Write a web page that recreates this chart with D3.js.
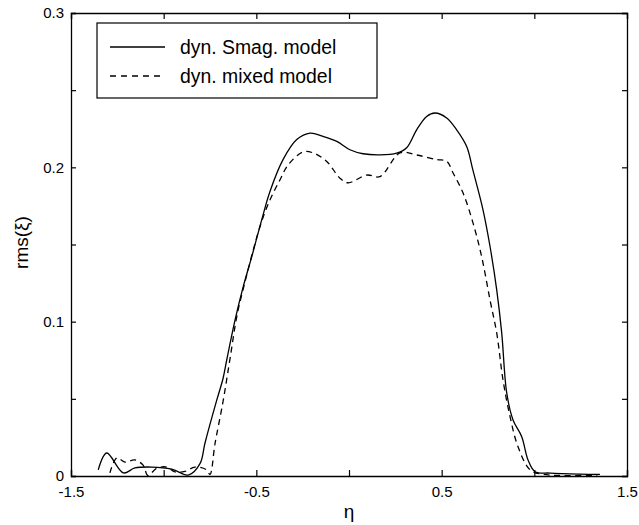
<!DOCTYPE html>
<html>
<head>
<meta charset="utf-8">
<script src="https://d3js.org/d3.v7.min.js"></script>
<style>
  body { margin: 0; background: #fff; }
  svg { display: block; }
  text { font-family: "Liberation Sans", Arial, sans-serif; fill: #000; }
</style>
</head>
<body>
<div id="chart"></div>
<script>
// eta positions and rms values
const smagEta = [-1.353, -1.307, -1.218, -1.155, -1.065, -0.957, -0.867, -0.804, -0.777,
  -0.714, -0.680, -0.660, -0.615, -0.570, -0.525, -0.471, -0.426, -0.356, -0.282, -0.210,
  -0.140, -0.066, 0.005, 0.076, 0.167, 0.257, 0.311, 0.365, 0.419, 0.464, 0.527, 0.581,
  0.635, 0.669, 0.723, 0.761, 0.797, 0.824, 0.851, 0.885, 0.932, 0.966, 1.004, 1.085, 1.246, 1.354];
const smagRms = [0.004, 0.0149, 0.002, 0.0052, 0.0058, 0.0045, 0.0006, 0.008, 0.0214,
  0.049, 0.063, 0.075, 0.101, 0.123, 0.142, 0.166, 0.1845, 0.205, 0.218, 0.2222,
  0.220, 0.2168, 0.2114, 0.2088, 0.2081, 0.2092, 0.2127, 0.2243, 0.233, 0.2352, 0.232, 0.2243,
  0.2135, 0.198, 0.1725, 0.1487, 0.1206, 0.0927, 0.0538, 0.0363, 0.0255, 0.0104, 0.0028, 0.0019, 0.0012, 0.001];

const mixedEta = [-1.290, -1.253, -1.209, -1.155, -1.111, -1.085, -1.038, -0.984, -0.939, -0.885,
  -0.831, -0.768, -0.750, -0.723, -0.680, -0.642, -0.606, -0.572, -0.480, -0.426, -0.372,
  -0.329, -0.248, -0.194, -0.120, -0.049, -0.005, 0.096, 0.167, 0.275, 0.365, 0.473, 0.527,
  0.561, 0.615, 0.669, 0.716, 0.761, 0.797, 0.831, 0.869, 0.912, 0.977, 1.05, 1.34];
const mixedRms = [0.002, 0.0117, 0.009, 0.0104, 0.007, 0.0003, 0.005, 0.0058, 0.0026, 0.003,
  0.0058, 0.004, 0.001, 0.021, 0.048, 0.076, 0.103, 0.1206, 0.1617, 0.179, 0.192,
  0.2015, 0.210, 0.2094, 0.2038, 0.193, 0.19, 0.195, 0.194, 0.2094, 0.208, 0.205, 0.204,
  0.1965, 0.1835, 0.164, 0.142, 0.114, 0.0927, 0.0622, 0.0385, 0.019, 0.004, 0.001, 0.0006];

const seriesNames = ["dyn. Smag. model", "dyn. mixed model"];
const xLabelTicks = [-1.5, -0.5, 0.5, 1.5];
const xAllTicks = [-1.5, -1, -0.5, 0, 0.5, 1, 1.5];
const yLabelTicks = [0, 0.1, 0.2, 0.3];
const yAllTicks = [0, 0.05, 0.1, 0.15, 0.2, 0.25, 0.3];

const width = 639, height = 525;
const margin = {top: 13, right: 12, bottom: 49, left: 71};
const iw = width - margin.left - margin.right;
const ih = height - margin.top - margin.bottom;

const svg = d3.select("#chart").append("svg")
    .attr("width", width)
    .attr("height", height);

svg.append("rect").attr("width", width).attr("height", height).attr("fill", "#fff");

const g = svg.append("g").attr("transform", `translate(${margin.left},${margin.top})`);

const x = d3.scaleLinear().domain([-1.5, 1.5]).range([0, iw]);
const y = d3.scaleLinear().domain([0, 0.3]).range([ih, 0]);

const fmt = d => (xLabelTicks.includes(d) ? String(d) : "");
const fmtY = d => (yLabelTicks.includes(d) ? String(d) : "");

// axes, ticks pointing inward on all four sides
const xBottom = g.append("g").attr("transform", `translate(0,${ih})`)
    .call(d3.axisBottom(x).tickValues(xAllTicks).tickSize(-6).tickPadding(10).tickFormat(fmt));
const xTop = g.append("g")
    .call(d3.axisTop(x).tickValues(xAllTicks).tickSize(-6).tickFormat(""));
const yLeft = g.append("g")
    .call(d3.axisLeft(y).tickValues(yAllTicks).tickSize(-5).tickPadding(7).tickFormat(fmtY));
const yRight = g.append("g").attr("transform", `translate(${iw},0)`)
    .call(d3.axisRight(y).tickValues(yAllTicks).tickSize(-5).tickFormat(""));

[xBottom, xTop, yLeft, yRight].forEach(a => {
  a.select(".domain").attr("stroke", "#000").attr("stroke-width", 1.3);
  a.selectAll(".tick line").attr("stroke", "#000").attr("stroke-width", 1.2);
  a.selectAll(".tick text").attr("font-size", 15).attr("font-family", "Liberation Sans, Arial, sans-serif");
});

const line = d3.line()
    .x(d => x(d[0]))
    .y(d => y(d[1]))
    .curve(d3.curveCatmullRom.alpha(0.5));

const smag = smagEta.map((e, i) => [e, smagRms[i]]);
const mixed = mixedEta.map((e, i) => [e, mixedRms[i]]);

g.append("path").datum(smag)
    .attr("d", line)
    .attr("fill", "none")
    .attr("stroke", "#000")
    .attr("stroke-width", 1.3);

g.append("path").datum(mixed)
    .attr("d", line)
    .attr("fill", "none")
    .attr("stroke", "#000")
    .attr("stroke-width", 1.3)
    .attr("stroke-dasharray", "6,4.5");

// axis labels
svg.append("text")
    .attr("x", margin.left + iw / 2)
    .attr("y", 518)
    .attr("text-anchor", "middle")
    .attr("font-size", 19)
    .text("η");

svg.append("text")
    .attr("transform", `translate(28,${margin.top + ih / 2 - 2}) rotate(-90)`)
    .attr("text-anchor", "middle")
    .attr("font-size", 19)
    .text("rms(ξ)");

// legend
const legend = svg.append("g");
legend.append("rect")
    .attr("x", 97).attr("y", 23)
    .attr("width", 280).attr("height", 75)
    .attr("fill", "#fff")
    .attr("stroke", "#000")
    .attr("stroke-width", 1.2);

seriesNames.forEach((name, i) => {
  const ly = 47 + i * 29;
  legend.append("line")
      .attr("x1", 110).attr("x2", 165)
      .attr("y1", ly).attr("y2", ly)
      .attr("stroke", "#000")
      .attr("stroke-width", 1.3)
      .attr("stroke-dasharray", i === 1 ? "6,5" : null);
  legend.append("text")
      .attr("x", 180)
      .attr("y", ly + 7)
      .attr("font-size", 19.4)
      .text(name);
});
</script>
</body>
</html>
